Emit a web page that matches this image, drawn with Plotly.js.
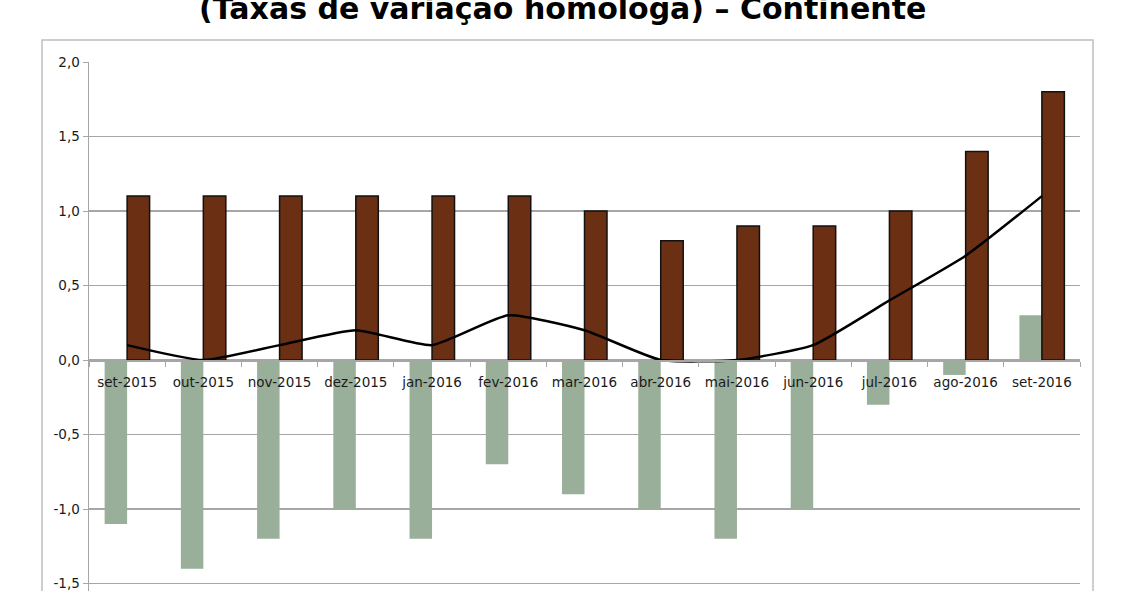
<!DOCTYPE html>
<html>
<head>
<meta charset="utf-8">
<script src="https://cdn.plot.ly/plotly-3.0.1.min.js"></script>
<style>
html,body{margin:0;padding:0;background:#fff;}
#chart{width:1128px;height:591px;}
</style>
</head>
<body>
<div id="chart"></div>
<script>
var categories = ["set-2015","out-2015","nov-2015","dez-2015","jan-2016","fev-2016","mar-2016","abr-2016","mai-2016","jun-2016","jul-2016","ago-2016","set-2016"];
var greenValues = [-1.1,-1.4,-1.2,-1.0,-1.2,-0.7,-0.9,-1.0,-1.2,-1.0,-0.3,-0.1,0.3];
var brownValues = [1.1,1.1,1.1,1.1,1.1,1.1,1.0,0.8,0.9,0.9,1.0,1.4,1.8];
var lineValues = [0.1,0.0,0.1,0.2,0.1,0.3,0.2,0.0,0.0,0.1,0.4,0.7,1.1];
var yTicks = [-1.5,-1.0,-0.5,0.0,0.5,1.0,1.5,2.0];
var yTickText = ["-1,5","-1,0","-0,5","0,0","0,5","1,0","1,5","2,0"];
var titleText = "(Taxas de variação homóloga) – Continente";

var yMin = -1.55, yMax = 2.0;
var fontFam = "DejaVu Sans, Verdana, sans-serif";

var traces = [
  {type:"bar", x:categories, y:greenValues, marker:{color:"#9AAF9A", line:{width:0}}, showlegend:false, hoverinfo:"skip"},
  {type:"bar", x:categories, y:brownValues, marker:{color:"#6B3014", line:{color:"#111", width:1.5}}, showlegend:false, hoverinfo:"skip"},
  {type:"scatter", mode:"lines", x:categories, y:lineValues, line:{color:"#000", width:2.5, shape:"spline", smoothing:0.5}, showlegend:false, hoverinfo:"skip"}
];

var layout = {
  width:1128, height:591,
  margin:{l:89, r:48, t:62, b:0},
  paper_bgcolor:"#fff", plot_bgcolor:"#fff",
  separators:",.",
  barmode:"group", bargap:0.41, bargroupgap:0,
  font:{family:fontFam, color:"#1a1a1a", size:13},
  xaxis:{
    type:"category", anchor:"free", position:(0-yMin)/(yMax-yMin),
    showline:true, linecolor:"#A6A6A6", linewidth:1.5,
    ticks:"outside", tickson:"boundaries", ticklen:5, tickcolor:"#A6A6A6",
    showgrid:false, tickfont:{family:fontFam, size:13.5, color:"#1a1a1a"},
    ticklabelstandoff:9, fixedrange:true
  },
  yaxis:{
    range:[yMin,yMax], tickvals:yTicks, ticktext:yTickText,
    showgrid:true, gridcolor:"#A6A6A6", gridwidth:1.5,
    zeroline:false, showline:true, linecolor:"#A6A6A6", linewidth:1.5,
    ticks:"outside", ticklen:5, tickcolor:"#A6A6A6", ticklabeloverflow:"allow",
    tickfont:{family:fontFam, size:13.5, color:"#1a1a1a"}, fixedrange:true
  },
  shapes:[
    {type:"rect", xref:"paper", yref:"paper", x0:(42-89)/991, x1:(1093-89)/991, y0:-0.2, y1:1+22/529, line:{color:"#BFBFBF", width:1.5}, fillcolor:"rgba(0,0,0,0)", layer:"below"}
  ],
  annotations:[
    {text:"<b>"+titleText+"</b>", xref:"paper", yref:"paper", x:(562-89)/991, y:1+(62-20)/529, xanchor:"center", yanchor:"bottom", yshift:-8, showarrow:false, font:{family:fontFam, size:30, color:"#000"}}
  ]
};

Plotly.newPlot("chart", traces, layout, {displayModeBar:false, staticPlot:true});
</script>
</body>
</html>
